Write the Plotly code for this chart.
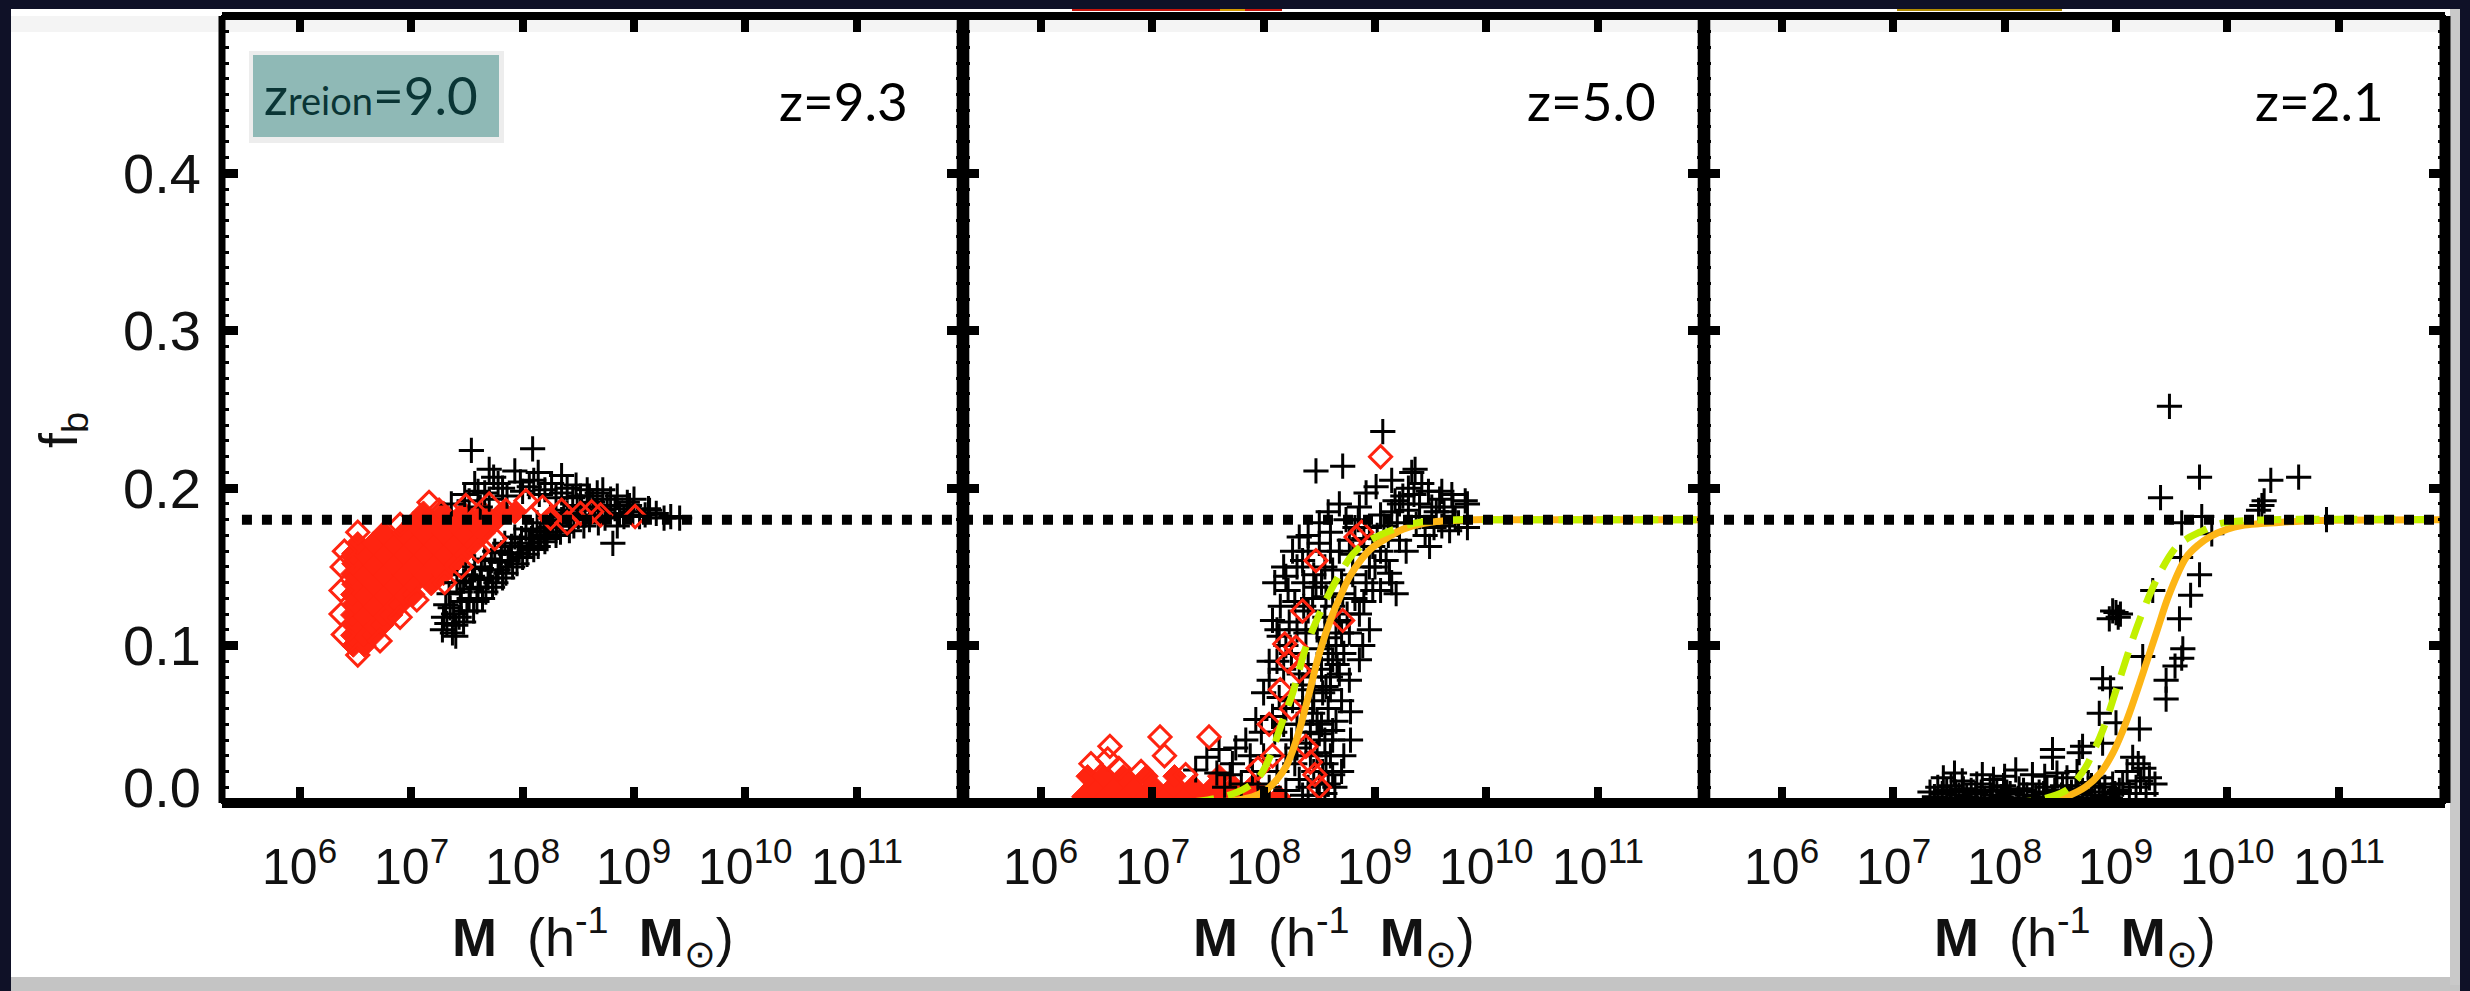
import numpy as np
import plotly.graph_objects as go
from plotly.subplots import make_subplots

# ---------------------------------------------------------------------------
# Data: halo mass (log10 of M in h^-1 Msun) and baryon fraction f_b
# ---------------------------------------------------------------------------
LOG_M_RANGE = [5.301, 11.954]
FB_RANGE = [0.0, 0.5]
FB_COSMIC = 0.18

mass_tick_exponents = [6, 7, 8, 9, 10, 11]
fb_tick_values = [0.0, 0.1, 0.2, 0.3, 0.4]
fb_tick_labels = ["0.0", "0.1", "0.2", "0.3", "0.4"]
redshift_labels = ["z=9.3", "z=5.0", "z=2.1"]
reion_label = "z<span style='font-size:38px'>reion</span>=9.0"
x_title = "<b>M</b>\u00a0\u00a0(h<sup>-1</sup>\u00a0\u00a0<b>M</b><sub>⊙</sub>)"
y_title = "f<sub>b</sub>"

# ---- panel 1 (z = 9.3) ----
# densely packed red diamonds: rows of (f_b, [log M, ...])
p1_red_dense_rows = [
    (0.100, [6.48, 6.58]),
    (0.1065, [6.47, 6.57, 6.66]),
    (0.113, [6.48, 6.66, 6.74]),
    (0.1195, [6.47, 6.57, 6.75, 6.82]),
    (0.126, [6.48, 6.66, 6.84, 6.90]),
    (0.1325, [6.47, 6.57, 6.75, 6.93, 7.02]),
    (0.139, [6.48, 6.66, 6.84, 7.02, 7.18]),
    (0.1455, [6.47, 6.57, 6.75, 6.93, 7.11, 7.29]),
    (0.152, [6.48, 6.66, 6.84, 7.02, 7.20, 7.38]),
    (0.1585, [6.48, 6.57, 6.75, 6.93, 7.11, 7.29, 7.47]),
    (0.165, [6.52, 6.66, 6.84, 7.02, 7.20, 7.38, 7.56]),
    (0.1715, [6.75, 6.93, 7.11, 7.29, 7.47, 7.65]),
    (0.178, [7.02, 7.20, 7.38, 7.56, 7.74]),
    (0.1845, [7.11, 7.29, 7.47, 7.65, 7.83, 7.93]),
]
p1_red_open = [
    (6.52, 0.172), (6.40, 0.160), (6.38, 0.150), (6.37, 0.135), (6.37, 0.120),
    (6.39, 0.107), (6.52, 0.094), (6.72, 0.103), (6.90, 0.118), (7.05, 0.129),
    (7.16, 0.191), (6.90, 0.177), (7.25, 0.186), (7.49, 0.189), (7.70, 0.190),
    (7.85, 0.186), (8.03, 0.192), (8.18, 0.188), (8.35, 0.186), (8.52, 0.184),
    (8.62, 0.185), (9.01, 0.182), (8.25, 0.181), (8.40, 0.178), (8.70, 0.183),
    (7.30, 0.140), (7.45, 0.150), (7.60, 0.160), (7.75, 0.168),
]
p1_plus = [
    (7.28, 0.110), (7.29, 0.118), (7.31, 0.126), (7.34, 0.133), (7.38, 0.120),
    (7.41, 0.140), (7.45, 0.128), (7.49, 0.145), (7.53, 0.136), (7.57, 0.150),
    (7.62, 0.142), (7.66, 0.155), (7.71, 0.148), (7.75, 0.160), (7.80, 0.153),
    (7.84, 0.165), (7.89, 0.158), (7.93, 0.169), (7.98, 0.163), (8.03, 0.174),
    (8.08, 0.168), (8.13, 0.178), (8.19, 0.172), (8.25, 0.182), (8.31, 0.176),
    (8.37, 0.186), (8.43, 0.180), (8.49, 0.189), (8.56, 0.183), (8.63, 0.191),
    (8.71, 0.186), (8.79, 0.193), (8.87, 0.184), (8.96, 0.189), (9.05, 0.182),
    (9.14, 0.186), (9.27, 0.181), (9.41, 0.181), (8.81, 0.165), (7.54, 0.224),
    (8.09, 0.225), (7.40, 0.113), (7.40, 0.106),
    (7.47, 0.115), (7.56, 0.122), (7.64, 0.130), (7.73, 0.137), (7.82, 0.143),
    (7.91, 0.150), (8.00, 0.156), (8.10, 0.161), (8.20, 0.166), (8.30, 0.170),
    (8.42, 0.173), (8.55, 0.176), (8.68, 0.178), (8.85, 0.176),
    (7.32, 0.114), (7.35, 0.124), (7.37, 0.108), (7.43, 0.118), (7.44, 0.134),
    (7.47, 0.141), (7.50, 0.122), (7.52, 0.130), (7.55, 0.144), (7.59, 0.128),
    (7.60, 0.137), (7.63, 0.149), (7.67, 0.134), (7.69, 0.143), (7.72, 0.154),
    (7.76, 0.140), (7.78, 0.148), (7.81, 0.159), (7.85, 0.146), (7.87, 0.154),
    (7.90, 0.163), (7.95, 0.152), (7.96, 0.159), (7.99, 0.168), (8.04, 0.158),
    (8.06, 0.165), (8.09, 0.173), (8.14, 0.163), (8.16, 0.170), (8.22, 0.168),
    (8.24, 0.175), (8.27, 0.179), (8.34, 0.172), (8.35, 0.180), (8.40, 0.184),
    (8.46, 0.176), (8.50, 0.182), (8.53, 0.188), (8.60, 0.180), (8.65, 0.186),
    (8.74, 0.181), (8.76, 0.189), (8.83, 0.187), (8.91, 0.182), (8.99, 0.185),
    (9.10, 0.183), (9.20, 0.184), (9.33, 0.182),
    (7.48, 0.196), (7.57, 0.203), (7.66, 0.197), (7.74, 0.207), (7.82, 0.200),
    (7.93, 0.211), (8.00, 0.198), (8.10, 0.205), (8.20, 0.199), (8.30, 0.194),
    (8.40, 0.200), (8.52, 0.195), (8.67, 0.197), (8.45, 0.194), (8.94, 0.191),
    (9.13, 0.187), (7.36, 0.190), (7.62, 0.188), (8.58, 0.199),
    (7.52, 0.192), (7.60, 0.198), (7.70, 0.193), (7.78, 0.203), (7.86, 0.195),
    (7.98, 0.204), (8.06, 0.201), (8.15, 0.196), (8.26, 0.203), (8.35, 0.197),
    (8.48, 0.202), (8.60, 0.195), (8.72, 0.199), (8.85, 0.195), (9.00, 0.193),
    (8.14, 0.210), (7.70, 0.212), (8.35, 0.208),
]

# ---- panel 2 (z = 5.0) ----
p2_red_dense_rows = [
    (0.004, [6.38, 6.56, 6.74, 6.92, 7.10, 7.28, 7.46, 7.64, 7.82, 8.00, 8.14]),
    (0.0105, [6.47, 6.65, 6.83, 7.01, 7.19, 7.37, 7.55, 7.73, 7.90]),
    (0.017, [6.42, 6.56, 6.74, 6.95, 7.20, 7.60]),
]
p2_red_open = [
    (9.05, 0.220), (8.83, 0.169), (8.88, 0.172), (8.47, 0.154), (8.35, 0.122),
    (8.71, 0.116), (8.19, 0.101), (8.29, 0.099), (8.32, 0.084), (8.05, 0.050),
    (8.38, 0.036), (8.42, 0.026), (8.46, 0.018), (8.50, 0.010), (7.07, 0.042),
    (7.11, 0.030), (7.51, 0.042), (6.62, 0.036), (6.60, 0.028), (6.70, 0.022),
    (6.45, 0.025), (6.90, 0.020), (7.30, 0.018), (8.25, 0.060), (8.15, 0.072),
    (8.22, 0.090), (7.95, 0.022), (8.08, 0.030),
]
p2_plus = [
    (9.07, 0.236), (8.47, 0.211), (8.71, 0.214), (8.89, 0.100), (9.33, 0.210),
    (9.36, 0.212), (9.60, 0.198), (9.81, 0.192), (9.01, 0.201), (9.15, 0.205),
    (9.69, 0.196), (9.51, 0.188), (9.67, 0.173), (9.49, 0.163), (9.22, 0.167),
    (9.37, 0.177), (9.13, 0.146), (9.00, 0.150), (8.98, 0.135), (8.86, 0.120),
    (8.71, 0.133), (8.68, 0.116), (8.77, 0.108), (8.62, 0.091), (8.68, 0.082),
    (8.56, 0.074), (8.50, 0.044), (8.56, 0.025), (8.38, 0.038), (8.32, 0.169),
    (8.35, 0.154), (8.08, 0.116), (8.14, 0.106), (8.05, 0.078), (8.14, 0.067),
    (7.93, 0.053), (7.84, 0.040), (7.60, 0.034), (7.49, 0.029), (7.72, 0.025),
    (8.20, 0.144), (8.47, 0.137), (8.56, 0.131), (8.38, 0.108), (8.32, 0.082),
    (8.26, 0.065), (8.62, 0.148), (8.77, 0.167), (8.74, 0.180), (8.86, 0.188),
    (8.92, 0.197), (8.80, 0.158), (8.98, 0.163), (9.10, 0.154), (9.19, 0.133),
    (8.86, 0.091), (8.77, 0.078), (8.44, 0.057), (8.62, 0.046), (8.32, 0.015),
    (8.20, 0.008), (7.58, 0.019), (7.39, 0.021), (9.25, 0.195), (9.42, 0.203),
    (9.55, 0.185), (9.30, 0.186), (9.72, 0.181), (9.05, 0.183), (9.45, 0.170),
    (9.83, 0.190), (9.60, 0.176), (9.20, 0.178), (9.83, 0.175), (8.40, 0.010),
    (8.45, 0.020), (8.50, 0.012), (8.42, 0.030), (8.35, 0.005), (8.55, 0.006),
    (8.28, 0.025), (8.48, 0.032), (8.60, 0.030), (8.52, 0.050), (8.58, 0.060),
    (8.45, 0.065), (8.40, 0.088), (8.50, 0.098), (8.58, 0.105), (8.25, 0.095),
    (8.18, 0.085), (8.10, 0.045), (8.00, 0.030), (7.90, 0.020), (7.80, 0.012),
    (8.05, 0.010), (8.62, 0.018), (8.28, 0.128), (8.40, 0.122), (8.55, 0.118),
    (8.15, 0.125), (8.22, 0.135), (8.30, 0.150), (8.40, 0.160), (8.50, 0.165),
    (8.60, 0.172), (8.68, 0.160), (8.55, 0.150), (8.45, 0.145), (8.36, 0.140),
    (8.62, 0.125), (8.70, 0.140), (8.80, 0.145), (8.92, 0.140), (9.05, 0.160),
    (9.12, 0.170), (8.95, 0.175), (8.85, 0.180), (8.65, 0.100), (8.72, 0.095),
    (8.60, 0.080), (8.70, 0.065), (8.78, 0.058), (8.65, 0.052), (8.55, 0.040),
    (8.70, 0.020), (8.64, 0.010), (8.30, 0.050), (8.20, 0.060), (8.12, 0.090),
    (8.35, 0.075), (8.45, 0.080), (8.52, 0.085), (8.23, 0.115), (9.28, 0.160),
    (9.40, 0.182), (9.58, 0.193), (9.70, 0.188), (9.18, 0.192), (9.35, 0.196),
    (7.65, 0.010), (7.70, 0.018), (7.95, 0.012), (8.12, 0.020), (8.20, 0.030),
    (8.30, 0.035),
    (8.42, 0.045), (8.48, 0.052), (8.53, 0.070), (8.60, 0.072), (8.66, 0.088),
    (8.70, 0.108), (8.75, 0.120), (8.82, 0.130), (8.90, 0.128), (8.95, 0.150),
    (9.02, 0.170), (9.08, 0.176), (9.15, 0.185), (9.22, 0.190), (9.30, 0.200),
    (9.40, 0.190), (9.48, 0.198), (9.53, 0.175), (9.62, 0.185), (9.75, 0.178),
    (8.90, 0.168), (8.82, 0.175), (8.68, 0.190), (8.60, 0.160), (8.52, 0.140),
    (8.44, 0.130), (8.36, 0.125), (8.30, 0.110), (8.20, 0.100), (8.12, 0.110),
    (8.05, 0.090), (8.00, 0.070), (8.08, 0.055), (8.18, 0.050), (8.25, 0.040),
    (8.35, 0.060), (8.42, 0.072), (8.48, 0.110), (8.58, 0.095), (8.65, 0.115),
    (8.53, 0.020), (8.58, 0.012), (8.48, 0.005), (8.62, 0.040), (8.72, 0.030),
    (8.78, 0.040), (7.98, 0.045), (7.88, 0.030), (7.75, 0.035), (8.10, 0.140),
    (8.18, 0.150), (8.26, 0.160), (8.40, 0.170), (8.50, 0.178), (8.58, 0.185),
    (8.95, 0.110), (9.05, 0.135), (9.15, 0.140),
]
p2_fit_solid_logm = [7.0, 7.4, 7.72, 7.9, 8.02, 8.12, 8.20, 8.26, 8.32, 8.41, 8.50,
                     8.62, 8.70, 8.77, 8.88, 8.98, 9.10, 9.22, 9.37, 9.52, 9.70, 9.90,
                     10.2, 11.954]
p2_fit_solid_fb = [0.0, 0.0005, 0.0015, 0.004, 0.008, 0.015, 0.023, 0.033, 0.046,
                   0.070, 0.095, 0.120, 0.133, 0.1435, 0.155, 0.1625, 0.168, 0.173,
                   0.1765, 0.1785, 0.1795, 0.18, 0.18, 0.18]
p2_fit_dash_logm = [7.0, 7.5, 7.8, 7.96, 8.06, 8.14, 8.20, 8.26, 8.38, 8.47, 8.56,
                    8.68, 8.80, 8.93, 9.07, 9.22, 9.37, 9.55, 9.75, 10.0, 11.954]
p2_fit_dash_fb = [0.0, 0.002, 0.008, 0.0167, 0.030, 0.046, 0.058, 0.0696, 0.099,
                  0.115, 0.129, 0.145, 0.158, 0.166, 0.171, 0.175, 0.178, 0.1795,
                  0.18, 0.18, 0.18]

# ---- panel 3 (z = 2.1) ----
p3_plus = [
    (9.48, 0.252), (9.75, 0.207), (9.40, 0.194), (10.39, 0.205), (10.64, 0.207),
    (10.31, 0.189), (10.28, 0.186), (10.33, 0.192), (10.89, 0.180), (9.77, 0.182),
    (9.59, 0.178), (9.86, 0.171), (9.58, 0.156), (9.75, 0.145), (9.67, 0.132),
    (9.33, 0.135), (9.57, 0.117), (9.04, 0.120), (8.97, 0.122), (8.94, 0.117),
    (9.00, 0.121), (9.02, 0.118), (9.60, 0.098), (9.59, 0.092), (9.53, 0.087),
    (9.24, 0.093), (9.45, 0.078), (9.45, 0.066), (8.88, 0.079), (8.95, 0.073),
    (8.85, 0.057), (9.21, 0.047), (9.00, 0.051), (8.88, 0.038), (8.43, 0.034),
    (8.43, 0.029), (8.67, 0.032), (8.70, 0.036), (9.15, 0.029), (9.20, 0.025),
    (9.30, 0.016), (9.10, 0.020), (9.25, 0.022),
    (9.18, 0.010), (9.27, 0.006), (9.22, 0.014), (9.35, 0.012),
    # crowded low-mass haloes sitting near f_b = 0
    (7.37, 0.004), (7.44, 0.006), (7.51, 0.003), (7.59, 0.005), (7.66, 0.004),
    (7.74, 0.006), (7.82, 0.003), (7.89, 0.005), (7.97, 0.004), (8.05, 0.006),
    (8.12, 0.003), (8.20, 0.005), (8.28, 0.004), (8.35, 0.006), (8.43, 0.003),
    (8.51, 0.005), (8.58, 0.004), (8.66, 0.006), (8.74, 0.003), (8.81, 0.005),
    (8.88, 0.004), (8.95, 0.003),
    (7.33, 0.007), (7.48, 0.008), (7.56, 0.007), (7.70, 0.008), (7.79, 0.007),
    (7.93, 0.008), (8.02, 0.007), (8.17, 0.008), (8.31, 0.007), (8.45, 0.008),
    (8.60, 0.007), (8.70, 0.008), (8.85, 0.007), (8.99, 0.006), (9.06, 0.012),
    (9.12, 0.006),
    (7.40, 0.010), (7.52, 0.011), (7.63, 0.009), (7.75, 0.012), (7.87, 0.010),
    (7.99, 0.011), (8.13, 0.009), (8.25, 0.012), (8.38, 0.010), (8.52, 0.011),
    (8.64, 0.009), (8.78, 0.011), (8.90, 0.010),
    (7.45, 0.016), (7.62, 0.014), (7.90, 0.015), (8.10, 0.021), (8.36, 0.017),
    (8.47, 0.019), (8.56, 0.016), (8.75, 0.013), (8.97, 0.012), (9.03, 0.008),
    (7.55, 0.019), (7.80, 0.018), (8.00, 0.017), (8.25, 0.018), (8.65, 0.020),
    (8.85, 0.016),
]
p3_fit_solid_logm = [7.0, 7.8, 8.2, 8.37, 8.55, 8.73, 8.86, 8.97, 9.05, 9.12, 9.24,
                     9.36, 9.48, 9.63, 9.74, 9.84, 10.0, 10.13, 10.3, 10.49, 10.8,
                     11.954]
p3_fit_solid_fb = [0.0, 0.0, 0.0005, 0.001, 0.004, 0.0104, 0.019, 0.0315, 0.044,
                   0.057, 0.082, 0.1076, 0.133, 0.156, 0.164, 0.169, 0.174, 0.1763,
                   0.1775, 0.1784, 0.1795, 0.18]
p3_fit_dash_logm = [7.0, 7.8, 8.3, 8.55, 8.65, 8.73, 8.80, 8.88, 9.03, 9.21, 9.39,
                    9.54, 9.64, 9.75, 9.93, 10.2, 11.954]
p3_fit_dash_fb = [0.0, 0.0, 0.002, 0.008, 0.015, 0.023, 0.033, 0.046, 0.078, 0.116,
                  0.1456, 0.1625, 0.168, 0.172, 0.1774, 0.1795, 0.18]

# ---------------------------------------------------------------------------
# Styling
# ---------------------------------------------------------------------------
NAVY = "#0f1127"
RED = "#ff2410"
ORANGE = "#fdb515"
LIME = "#c2f000"
TEAL = "#8fb9b6"
TEAL_TEXT = "#0a3535"
INK = "#111111"
TICK_FONT = "Liberation Sans"
LABEL_FONT = "Lato"

W, H = 2470, 991
L, R, T, B = 222, 2445, 16, 803          # plotting region in pixels
PW, PH = R - L, B - T


def px_x(px):
    return (px - L) / PW


def px_y(py):
    return (B - py) / PH


def mass(logm):
    return np.power(10.0, np.asarray(logm, dtype=float))


def unzip(points):
    return mass([p[0] for p in points]), [p[1] for p in points]


def unrows(rows):
    lm, fb = [], []
    for f, row in rows:
        for m in row:
            lm.append(m)
            fb.append(f)
    return mass(lm), fb


plus_marker = dict(symbol="cross-thin", size=18, color="black",
                   line=dict(color="black", width=3))
open_diamond = dict(symbol="diamond-open", size=17, color=RED,
                    line=dict(color=RED, width=3))
dense_diamond = dict(symbol="diamond", size=18, color=RED,
                     line=dict(color=RED, width=1))

fig = make_subplots(rows=1, cols=3, horizontal_spacing=0)

panels = [
    dict(dense=p1_red_dense_rows, opened=p1_red_open, plus=p1_plus, fits=None,
         line_start=5.48),
    dict(dense=p2_red_dense_rows, opened=p2_red_open, plus=p2_plus,
         fits=((p2_fit_solid_logm, p2_fit_solid_fb), (p2_fit_dash_logm, p2_fit_dash_fb)),
         line_start=LOG_M_RANGE[0]),
    dict(dense=None, opened=None, plus=p3_plus,
         fits=((p3_fit_solid_logm, p3_fit_solid_fb), (p3_fit_dash_logm, p3_fit_dash_fb)),
         line_start=LOG_M_RANGE[0]),
]

for i, pnl in enumerate(panels, start=1):
    if pnl["dense"]:
        x, y = unrows(pnl["dense"])
        fig.add_trace(go.Scatter(x=x, y=y, mode="markers", marker=dense_diamond,
                                 hoverinfo="skip"), row=1, col=i)
    x, y = unzip(pnl["plus"])
    fig.add_trace(go.Scatter(x=x, y=y, mode="markers", marker=plus_marker,
                             hoverinfo="skip"), row=1, col=i)
    if pnl["opened"]:
        x, y = unzip(pnl["opened"])
        fig.add_trace(go.Scatter(x=x, y=y, mode="markers", marker=open_diamond,
                                 hoverinfo="skip"), row=1, col=i)
    if pnl["fits"]:
        (sl, sf), (dl, df) = pnl["fits"]
        fig.add_trace(go.Scatter(x=mass(sl), y=sf, mode="lines",
                                 line=dict(color=ORANGE, width=7, shape="spline"),
                                 hoverinfo="skip"), row=1, col=i)
        fig.add_trace(go.Scatter(x=mass(dl), y=df, mode="lines",
                                 line=dict(color=LIME, width=7, dash="24px,14px",
                                           shape="spline"),
                                 hoverinfo="skip"), row=1, col=i)
    # cosmic baryon fraction
    fig.add_trace(go.Scatter(x=mass([pnl["line_start"], LOG_M_RANGE[1]]),
                             y=[FB_COSMIC, FB_COSMIC], mode="lines",
                             line=dict(color="black", width=10, dash="dot"),
                             hoverinfo="skip"), row=1, col=i)

for i in range(1, 4):
    fig.update_xaxes(
        type="log", range=LOG_M_RANGE,
        tickvals=list(mass(mass_tick_exponents)),
        ticks="inside", ticklen=16, tickwidth=8, tickcolor="black",
        showline=True, linewidth=1, linecolor="black", mirror="ticks",
        showgrid=False, zeroline=False, showticklabels=False,
        row=1, col=i)
    fig.update_yaxes(
        range=FB_RANGE, tickvals=fb_tick_values,
        ticks="inside", ticklen=16, tickwidth=9, tickcolor="black",
        minor=dict(ticks="inside", dtick=0.01, tick0=0, ticklen=7, tickwidth=3,
                   tickcolor="black"),
        showline=True, linewidth=1, linecolor="black", mirror="ticks",
        showgrid=False, zeroline=False, showticklabels=False,
        row=1, col=i)

shapes = [
    # slide background and its shaded edges
    dict(type="rect", xref="paper", yref="paper", layer="below",
         x0=px_x(11), x1=px_x(2460), y0=px_y(991), y1=px_y(977),
         fillcolor="#c4c4c4", line=dict(width=0)),
    dict(type="rect", xref="paper", yref="paper", layer="below",
         x0=px_x(2450), x1=px_x(2460), y0=px_y(985), y1=px_y(9),
         fillcolor="#c9c9c9", line=dict(width=0)),
    dict(type="rect", xref="paper", yref="paper", layer="below",
         x0=px_x(11), x1=px_x(2450), y0=px_y(977), y1=px_y(9),
         fillcolor="white", line=dict(width=0)),
    # soft shade under the top edge
    dict(type="rect", xref="paper", yref="paper", layer="below",
         x0=px_x(11), x1=px_x(2450), y0=px_y(32), y1=px_y(16),
         fillcolor="rgba(0,0,0,0.045)", line=dict(width=0)),
    # label box with a soft shadow
    dict(type="rect", xref="paper", yref="paper", layer="below",
         x0=px_x(249), x1=px_x(504), y0=px_y(143), y1=px_y(51),
         fillcolor="rgba(0,0,0,0.07)", line=dict(width=0)),
    dict(type="rect", xref="paper", yref="paper", layer="below",
         x0=px_x(253), x1=px_x(499), y0=px_y(137), y1=px_y(55),
         fillcolor=TEAL, line=dict(width=0)),
    # thin coloured slivers along the upper slide edge
    dict(type="line", xref="paper", yref="paper", layer="above",
         x0=px_x(1072), x1=px_x(1282), y0=px_y(10), y1=px_y(10),
         line=dict(color="#c8140a", width=2)),
    dict(type="line", xref="paper", yref="paper", layer="above",
         x0=px_x(1220), x1=px_x(1245), y0=px_y(10), y1=px_y(10),
         line=dict(color="#d49a00", width=2)),
    dict(type="line", xref="paper", yref="paper", layer="above",
         x0=px_x(1897), x1=px_x(2062), y0=px_y(10), y1=px_y(10),
         line=dict(color="#b08a00", width=2)),
]
# panel frames: thin outer edges, heavier shared edges
frame = dict(type="line", xref="paper", yref="paper", layer="above",
             line=dict(color="black", width=8))
shapes += [
    dict(frame, x0=0, x1=1, y0=1, y1=1),
    dict(frame, x0=0, x1=1, y0=0, y1=0, line=dict(color="black", width=10)),
    dict(frame, x0=0, x1=0, y0=0, y1=1, line=dict(color="black", width=7)),
    dict(frame, x0=1, x1=1, y0=0, y1=1, line=dict(color="black", width=11)),
    dict(frame, x0=1 / 3, x1=1 / 3, y0=0, y1=1, line=dict(color="black", width=12.6)),
    dict(frame, x0=2 / 3, x1=2 / 3, y0=0, y1=1, line=dict(color="black", width=12.6)),
]

annotations = [
    dict(text=reion_label, xref="paper", yref="paper", x=px_x(371), y=px_y(95),
         xanchor="center", yanchor="middle", showarrow=False,
         font=dict(family=LABEL_FONT, size=53, color=TEAL_TEXT)),
]
for label, right_px in zip(redshift_labels, [910, 1658, 2386]):
    annotations.append(dict(text=label, xref="paper", yref="paper",
                            x=px_x(right_px), y=px_y(101), xanchor="right",
                            yanchor="middle", showarrow=False,
                            font=dict(family=LABEL_FONT, size=53, color="black")))

# f_b tick labels on the first panel (the bottom one sits a little higher)
for v, lab in zip(fb_tick_values, fb_tick_labels):
    annotations.append(dict(text=lab, xref="paper", yref="y", x=px_x(203), y=v,
                            xanchor="right", yanchor="middle", showarrow=False,
                            yshift=16 if v == 0 else 0,
                            font=dict(family=TICK_FONT, size=56, color=INK)))

# mass tick labels and axis titles under each panel
for i, xa in enumerate(["x", "x2", "x3"]):
    for e in mass_tick_exponents:
        annotations.append(dict(text=f"10<sup>{e}</sup>", xref=xa, yref="paper",
                                x=e, y=px_y(829), xanchor="center", yanchor="top",
                                showarrow=False,
                                font=dict(family=TICK_FONT, size=50, color=INK)))
    annotations.append(dict(text=x_title, xref=f"{xa} domain", yref="paper",
                            x=0.5, y=px_y(897), xanchor="center", yanchor="top",
                            showarrow=False,
                            font=dict(family=TICK_FONT, size=54, color=INK)))

annotations.append(dict(text=y_title, xref="paper", yref="paper",
                        x=px_x(62), y=px_y(430), xanchor="center", yanchor="middle",
                        textangle=-90, showarrow=False,
                        font=dict(family=TICK_FONT, size=54, color=INK)))

fig.update_layout(
    width=W, height=H,
    margin=dict(l=L, r=W - R, t=T, b=H - B, pad=0),
    paper_bgcolor=NAVY, plot_bgcolor="white",
    showlegend=False,
    shapes=shapes, annotations=annotations,
)

fig.write_html("out.html")
